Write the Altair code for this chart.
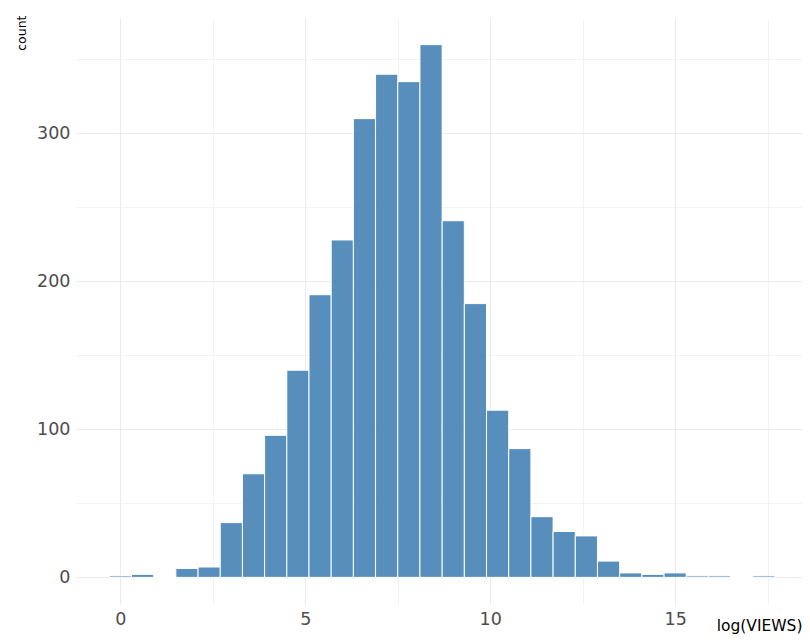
import altair as alt
import pandas as pd

# Histogram of log(VIEWS): 30 bins of width 0.6, centred on 0, 0.6, ..., 17.4
bin_start = [-0.3, 0.3, 0.9, 1.5, 2.1, 2.7, 3.3, 3.9, 4.5, 5.1,
             5.7, 6.3, 6.9, 7.5, 8.1, 8.7, 9.3, 9.9, 10.5, 11.1,
             11.7, 12.3, 12.9, 13.5, 14.1, 14.7, 15.3, 15.9, 16.5, 17.1]
bin_end = [0.3, 0.9, 1.5, 2.1, 2.7, 3.3, 3.9, 4.5, 5.1, 5.7,
           6.3, 6.9, 7.5, 8.1, 8.7, 9.3, 9.9, 10.5, 11.1, 11.7,
           12.3, 12.9, 13.5, 14.1, 14.7, 15.3, 15.9, 16.5, 17.1, 17.7]
counts = [1, 2, 0, 6, 7, 37, 70, 96, 140, 191,
          228, 310, 340, 335, 360, 241, 185, 113, 87, 41,
          31, 28, 11, 3, 2, 3, 1, 1, 0, 1]

x_grid = [0, 2.5, 5, 7.5, 10, 12.5, 15, 17.5]
y_grid = [0, 50, 100, 150, 200, 250, 300, 350]

df = pd.DataFrame({"start": bin_start, "end": bin_end, "count": counts})

FONT = "DejaVu Sans"

x_axis = alt.Axis(
    values=x_grid,
    labelExpr="datum.value % 5 === 0 ? datum.label : ''",
    domain=False, ticks=False, grid=True,
    gridColor="#ebebeb",
    gridWidth={"condition": {"test": "datum.value % 5 !== 0", "value": 0.6}, "value": 1.1},
    labelFont=FONT, labelFontSize=17.5, labelColor="#4d4d4d", labelPadding=6,
    title="log(VIEWS)", titleFont=FONT, titleFontSize=15.5, titleFontWeight="normal",
    titleColor="#000000", titleX=726, titleY=26, titleAlign="right",
    titleBaseline="alphabetic",
)

y_axis = alt.Axis(
    values=y_grid,
    labelExpr="datum.value % 100 === 0 ? datum.label : ''",
    domain=False, ticks=False, grid=True,
    gridColor="#ebebeb",
    gridWidth={"condition": {"test": "datum.value % 100 !== 0", "value": 0.6}, "value": 1.1},
    labelFont=FONT, labelFontSize=17.5, labelColor="#4d4d4d", labelPadding=6,
    title="count", titleFont=FONT, titleFontSize=12.5, titleFontWeight="normal",
    titleColor="#000000", titleAngle=270, titleX=-51, titleY=-3,
    titleAlign="right", titleBaseline="alphabetic",
)

chart = alt.Chart(df).mark_bar(
    color="#4682b4", fillOpacity=0.9, stroke="white", strokeWidth=1
).encode(
    x=alt.X("start:Q", scale=alt.Scale(domain=[-1.2, 18.43], nice=False, zero=False), axis=x_axis),
    x2="end:Q",
    y=alt.Y("count:Q", scale=alt.Scale(domain=[-18, 378], nice=False, zero=False), axis=y_axis),
    y2=alt.datum(0),
).properties(
    width=726, height=586,
    autosize=alt.AutoSizeParams(type="none"),
    padding={"left": 68, "top": 10, "right": 0, "bottom": 31},
    background="white",
).configure_view(stroke=None)

chart.save("out.html", embed_options={"renderer": "svg", "actions": False})
